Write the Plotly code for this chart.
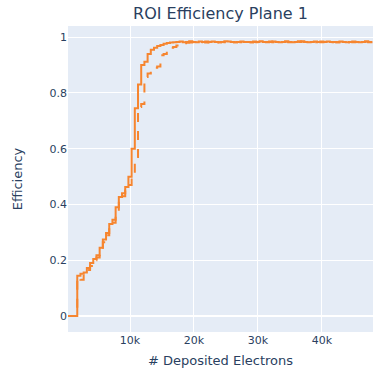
import numpy as np
import plotly.graph_objects as go

# Bin centres (500 electron bins)
electrons = np.arange(250, 48000, 500)

# Efficiency per bin: rising part read bin by bin, plateau afterwards
eff_solid_rise = [0, 0, 0, 0.145, 0.152, 0.156, 0.172, 0.19, 0.205, 0.218,
                  0.245, 0.275, 0.298, 0.33, 0.345, 0.39, 0.427, 0.44, 0.463, 0.5,
                  0.6, 0.745, 0.83, 0.9, 0.912, 0.94, 0.955, 0.962, 0.968, 0.972,
                  0.976, 0.979, 0.981, 0.982]
eff_dashed_rise = [0, 0, 0, 0.14, 0.13, 0.15, 0.165, 0.18, 0.2, 0.21,
                   0.235, 0.265, 0.29, 0.32, 0.335, 0.375, 0.415, 0.43, 0.45, 0.47,
                   0.5, 0.57, 0.75, 0.76, 0.857, 0.87, 0.89, 0.89, 0.895, 0.935,
                   0.94, 0.95, 0.962, 0.965, 0.97, 0.975, 0.978, 0.98]

plateau_solid = [0.983, 0.984, 0.982, 0.983, 0.985, 0.983, 0.982, 0.984, 0.983, 0.981,
                 0.983, 0.984, 0.983, 0.982, 0.983, 0.985, 0.984, 0.983, 0.982, 0.983,
                 0.984, 0.983, 0.983, 0.982, 0.984, 0.983, 0.985, 0.983, 0.982, 0.983,
                 0.984, 0.983, 0.982, 0.983, 0.984, 0.983, 0.982, 0.983, 0.985, 0.984,
                 0.983, 0.982, 0.983, 0.984, 0.983, 0.982, 0.983, 0.984, 0.983, 0.983,
                 0.982, 0.984, 0.983, 0.982, 0.983, 0.984, 0.983, 0.982, 0.983, 0.984,
                 0.983, 0.982]
plateau_dashed = [0.981, 0.982, 0.983, 0.982, 0.983, 0.984, 0.982, 0.983, 0.981, 0.982,
                  0.983, 0.982, 0.984, 0.983, 0.982, 0.983, 0.982, 0.983, 0.984, 0.982,
                  0.983, 0.982, 0.983, 0.981, 0.983, 0.984, 0.982, 0.983, 0.982, 0.983,
                  0.984, 0.982, 0.983, 0.982, 0.983, 0.984, 0.983, 0.982, 0.983, 0.982,
                  0.983, 0.984, 0.982, 0.983, 0.982, 0.983, 0.982, 0.983, 0.984, 0.982,
                  0.983, 0.982, 0.983, 0.982, 0.983, 0.984, 0.982, 0.983]

eff_solid = (eff_solid_rise + plateau_solid)[:len(electrons)]
eff_dashed = (eff_dashed_rise + plateau_dashed)[:len(electrons)]

line_color = "#f6852f"
font_family = "Verdana, DejaVu Sans, sans-serif"

fig = go.Figure()
fig.add_trace(go.Scatter(x=electrons, y=eff_dashed, mode="lines", line_shape="hv",
                         line=dict(color=line_color, width=2, dash="dash"),
                         showlegend=False))
fig.add_trace(go.Scatter(x=electrons, y=eff_solid, mode="lines", line_shape="hv",
                         line=dict(color=line_color, width=2),
                         showlegend=False))

fig.update_layout(
    template="plotly",
    width=373, height=368,
    font=dict(family=font_family, size=12, color="#2a3f5f"),
    margin=dict(l=68, r=0, t=26, b=36),
    title=dict(text="ROI Efficiency Plane 1", x=0.5, xref="paper", xanchor="center",
               y=1 - 13 / 368, yref="container", yanchor="middle",
               font=dict(size=16)),
    xaxis=dict(title=dict(text="# Deposited Electrons", font=dict(size=13), standoff=13),
               tickfont=dict(size=11),
               range=[300, 48000], dtick=10000, automargin=False),
    yaxis=dict(title=dict(text="Efficiency", font=dict(size=13), standoff=23),
               tickfont=dict(size=11),
               range=[-0.057, 1.04], dtick=0.2, automargin=False),
)

fig.write_html("out.html")
